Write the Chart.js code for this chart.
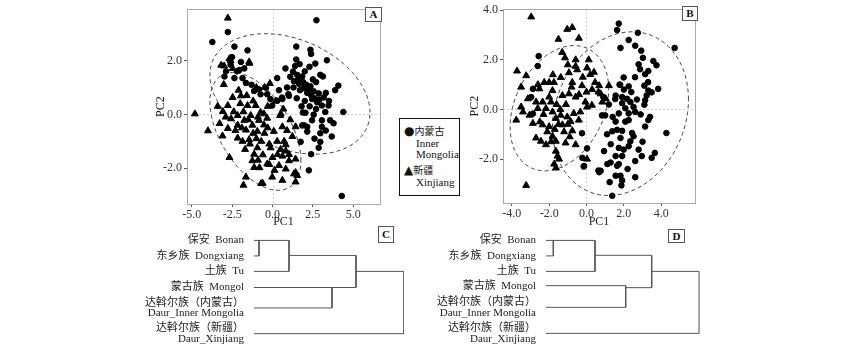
<!DOCTYPE html>
<html lang="zh">
<head>
<meta charset="UTF-8">
<title>PCA and clustering</title>
<script src="https://cdn.jsdelivr.net/npm/chart.js"></script>
<style>
    body { margin: 0; background: #fff; width: 848px; height: 350px; position: relative; overflow: hidden;
           font-family: 'Liberation Serif', 'Noto Sans CJK SC', serif; color: #111; }
    canvas { position: absolute; }
    .tag { position: absolute; box-sizing: border-box; border: 1px solid #555; background: #fff;
           font-weight: bold; font-size: 11px; text-align: center; }
    #legend { position: absolute; left: 399px; top: 118px; width: 61px; height: 78px;
              box-sizing: border-box; border: 1px solid #111; font-size: 11px; }
    #legend span { position: absolute; white-space: nowrap; line-height: 12px; }
    #legend .cjk { position: static; font-size: 10px; }
    #legend .mk { position: static; font-size: 12px; font-family: 'DejaVu Sans', sans-serif; }
</style>
</head>
<body>
<canvas id="chartA" width="235" height="231" style="left:150px;top:0px"></canvas>
<canvas id="chartB" width="236" height="231" style="left:464px;top:0px"></canvas>
<canvas id="chartC" width="270" height="130" style="left:140px;top:220px"></canvas>
<canvas id="chartD" width="275" height="130" style="left:430px;top:220px"></canvas>

<div class="tag" style="left:365px;top:7px;width:17px;height:15px;line-height:13px">A</div>
<div class="tag" style="left:682px;top:6px;width:16px;height:15px;line-height:13px">B</div>
<div class="tag" style="left:378px;top:226px;width:16px;height:17px;line-height:15px">C</div>
<div class="tag" style="left:668px;top:229px;width:17px;height:14px;line-height:12px">D</div>

<div id="legend">
    <span style="left:4px;top:6px"><span class="mk">●</span><span class="cjk">内蒙古</span></span>
    <span style="left:16px;top:18px">Inner</span>
    <span style="left:16px;top:29px">Mongolia</span>
    <span style="left:4px;top:45px"><span class="mk">▲</span><span class="cjk">新疆</span></span>
    <span style="left:16px;top:57px">Xinjiang</span>
</div>

<script>
// ---- panel A: PCA scores (PC1, PC2) ----
const imA = [
    [2.72,3.50],[4.29,-3.03],[-3.73,2.69],[-2.77,3.06],[-2.36,2.52],[-1.55,2.38],[-2.51,2.13],[-1.96,1.95],
    [-1.75,1.71],[-2.05,1.65],[-2.88,1.60],[-2.98,1.41],[-2.36,1.35],[-1.86,1.35],[-1.65,1.17],[0.80,1.71],
    [0.29,1.35],[-0.41,0.99],[-0.84,0.93],[-1.14,0.87],[-0.74,0.75],[-0.33,0.75],[-0.13,0.57],[0.29,0.51],
    [0.59,0.63],[-0.02,0.33],[1.47,2.52],[2.35,2.40],[2.39,2.25],[3.37,2.01],[1.47,2.04],[1.68,1.87],
    [2.29,1.77],[2.65,1.89],[1.27,1.59],[1.53,1.47],[1.84,1.41],[2.96,1.47],[3.12,1.41],[4.08,1.07],
    [3.88,0.90],[1.33,1.23],[1.64,1.14],[1.94,0.98],[2.35,1.04],[2.55,0.86],[2.15,0.80],[2.86,0.78],
    [3.17,0.63],[2.45,0.57],[2.76,0.45],[3.06,0.33],[3.47,0.33],[3.27,0.09],[4.39,0.09],[2.04,0.06],
    [2.55,-0.01],[3.57,-0.22],[3.06,-0.22],[3.78,-0.33],[2.45,-0.22],[1.94,-0.40],[2.15,-0.46],[3.06,-0.46],
    [2.96,-0.70],[3.67,-0.82],[2.15,-0.64],[1.74,-1.02],[2.96,-1.02],[2.86,-1.24],[2.39,-1.48],[2.25,-2.08],
    [1.02,0.69],[0.61,0.57],[0.98,0.75],[1.60,1.30],[1.90,1.20],[2.10,1.10],[2.20,0.90],[2.40,0.70],
    [2.60,0.60],[2.00,0.50],[2.30,0.30],[2.70,0.20],[2.90,0.55],[2.50,1.30],[1.70,0.90],[3.30,0.80],
    [3.50,0.50],[1.40,1.80],[1.10,1.40],[0.90,1.00],[1.50,0.60],[1.84,-0.41],[1.88,0.07],[2.60,-0.90],
    [3.30,-0.60],[1.30,1.00],[2.00,1.60],[2.70,1.20],[1.80,0.30],[0.40,0.90],[-1.30,1.10],[-2.20,1.60],
    [-2.60,1.85]
];
const xjA = [
    [-2.77,3.58],[-3.18,1.83],[-2.67,2.07],[-1.45,1.95],[-2.47,1.71],[-3.02,1.11],[-0.16,1.15],[-1.96,0.69],
    [-2.47,0.63],[-4.81,0.02],[-4.00,-0.61],[-3.08,0.11],[-2.77,0.33],[-3.28,-0.34],[-2.67,-1.60],[-1.65,-2.33],
    [-1.80,-2.63],[-0.71,-2.57],[-1.14,-1.48],[-2.16,-0.88],[-1.86,-1.00],[-1.45,-0.94],[-0.94,-0.63],[-0.53,-0.39],
    [-0.33,-0.14],[0.08,-0.63],[0.29,-1.00],[-0.12,-1.24],[-0.94,-1.24],[-1.25,-1.72],[-0.33,-1.84],[0.12,-2.08],
    [-0.02,-2.33],[-1.14,-1.97],[-2.57,-0.16],[-2.16,-0.04],[-1.75,-0.22],[-1.35,-0.04],[-1.04,0.33],[-0.74,0.08],
    [-1.55,0.33],[-2.16,-0.40],[-2.77,-0.52],[-1.65,-0.58],[-1.25,-0.40],[-0.84,-0.22],[-0.53,0.02],[0.47,-0.04],
    [0.67,0.20],[0.51,0.02],[0.61,-0.46],[1.43,-0.46],[1.23,-0.82],[0.72,-1.00],[0.82,-1.36],[0.61,-1.55],
    [1.02,-1.72],[1.43,-1.66],[0.82,-2.03],[1.33,-2.21],[1.53,-2.27],[1.43,-2.51],[0.61,-2.45],[-0.61,-2.56],
    [1.43,-2.16],[-0.81,-1.98],[-0.20,-1.86],[0.31,-1.49],[0.82,-1.13],[1.02,-1.49],[-3.00,1.80],[-2.60,2.00],
    [-1.43,1.90],[-2.00,0.40],[-1.80,0.10],[-1.50,-0.20],[-1.20,-0.70],[-1.00,-0.90],[-0.70,-1.00],[-0.50,-0.70],
    [-0.30,-0.50],[-1.90,-0.50],[-2.40,0.10],[-1.60,0.70],[-1.20,0.50],[-0.90,-0.10],[-0.60,-1.50],[-0.90,-1.70],
    [0.00,-1.60],[0.40,-1.90],[-2.30,-0.60],[-1.70,-1.30],[-2.90,-0.10],[-3.40,0.30],[-0.50,1.00],[-1.00,1.00],
    [0.20,0.50],[-0.30,0.30],[1.10,-0.20],[0.90,-0.60],[-1.40,-1.10],[-0.20,-1.10],[0.50,-1.30],[-2.10,0.90],
    [-3.10,-0.80]
];
// confidence ellipses: centre, then two conjugate semi-axes (data units)
const ellipsesA = [[1.08, 0.76, 4.96, -0.69, 0, 2.13], [-1.06, -0.63, 2.82, -1.09, 0, 1.90]];
const ticksAx = [-5, -2.5, 0, 2.5, 5];
const ticksAy = [-2, 0, 2];

// ---- panel B ----
const imB = [
    [-2.56,2.15],[-2.61,1.75],[-2.87,0.83],[-2.96,0.50],[-2.87,-0.17],[-0.24,-0.96],[0.03,-1.57],[-0.15,-2.30],
    [0.64,-2.46],[1.73,3.46],[1.64,3.20],[2.75,3.09],[2.26,2.80],[1.82,2.48],[2.61,2.57],[2.93,2.37],
    [4.72,2.48],[3.02,2.08],[2.79,1.82],[2.87,1.62],[3.58,1.95],[3.75,1.78],[3.31,1.55],[3.14,1.42],
    [1.99,1.29],[1.77,1.00],[2.26,0.93],[3.10,0.96],[3.31,0.76],[3.49,0.69],[3.84,0.83],[3.22,0.56],
    [3.14,0.37],[3.10,0.19],[1.56,0.56],[1.91,0.50],[2.17,0.43],[2.35,0.30],[2.52,0.10],[2.61,-0.10],
    [1.91,0.25],[2.08,0.05],[1.73,-0.16],[2.26,-0.16],[1.56,-0.49],[2.08,-0.49],[2.26,-0.43],[3.40,-0.30],
    [3.31,-0.43],[3.14,-0.69],[1.38,-0.88],[1.64,-0.82],[1.91,-0.86],[1.82,-1.15],[2.44,-0.95],[2.52,-1.08],
    [4.28,-0.95],[2.35,-1.28],[2.26,-1.48],[1.73,-1.55],[1.99,-1.62],[1.91,-1.88],[2.79,-1.62],[2.96,-1.88],
    [3.66,-1.75],[3.49,-1.95],[0.94,-1.68],[1.56,-1.88],[2.61,-2.08],[1.29,-2.14],[1.12,-2.20],[1.73,-2.20],
    [1.64,-2.27],[0.76,-2.47],[0.68,-2.53],[1.56,-2.67],[1.82,-2.67],[1.91,-2.86],[1.87,-3.06],[1.24,-2.93],
    [2.61,-2.73],[1.38,-3.48],[0.83,-0.24],[1.00,-0.24],[1.54,0.42],[1.80,1.00],[-0.22,-1.95],[-0.13,-2.28],
    [2.40,0.70],[2.00,0.80],[1.20,0.20],[1.40,-0.30],[2.90,-0.20],[2.70,0.40],[1.10,-1.00],[2.20,-2.40],
    [3.00,-1.30],[2.60,1.30],[3.30,1.10],[0.90,0.50],[1.30,-1.40]
];
const xjB = [
    [-2.96,3.73],[-1.03,3.23],[-0.76,3.30],[-1.50,2.83],[-0.41,2.87],[-3.72,1.55],[-3.23,1.36],[-1.15,2.08],
    [-0.58,2.00],[-0.58,1.74],[0.12,2.00],[0.03,1.67],[0.20,1.41],[-0.94,1.48],[-1.38,1.29],[-2.26,1.09],
    [-2.00,1.09],[-1.74,1.09],[-2.52,0.83],[-1.82,0.76],[-0.76,1.09],[-0.24,0.96],[0.46,1.09],[0.64,0.70],
    [-0.94,0.63],[-1.29,0.56],[-0.58,0.50],[-0.06,0.30],[0.29,0.17],[-3.14,0.43],[-2.70,0.30],[-2.35,0.30],
    [-3.40,-0.10],[-3.76,-0.43],[-3.05,-0.23],[-2.61,0.04],[-2.17,0.04],[-1.82,-0.10],[-1.64,-0.36],[-1.38,-0.23],
    [-1.03,-0.30],[-0.68,-0.16],[-0.33,-0.10],[0.03,0.10],[-2.87,-0.56],[-2.35,-0.62],[-2.00,-0.69],[-1.29,-0.62],
    [-0.85,-0.49],[-0.41,-0.43],[-2.70,-1.15],[-2.44,-1.28],[-2.17,-1.42],[-1.82,-1.08],[-1.64,-1.28],[-1.12,-1.35],
    [-0.76,-0.86],[-0.58,-1.42],[-1.64,-1.68],[-1.55,-1.88],[-1.47,-2.00],[-1.73,-2.20],[-1.64,-2.36],[-3.23,-3.06],
    [0.03,-2.00],[0.76,0.63],[1.03,0.43],[1.20,0.96],[0.68,0.96],[0.85,0.30],[-1.60,0.20],[-1.40,0.00],
    [-1.90,0.30],[-1.50,-0.60],[-1.70,-0.80],[-1.20,-0.90],[-2.30,-0.20],[-2.00,0.50],[-1.10,0.20],[-0.80,0.90],
    [-0.40,0.60],[0.30,0.80],[-0.20,1.30],[-1.00,1.80],[-1.80,1.40],[-2.50,-0.50],[-3.50,0.10],[-1.90,-1.30],
    [-0.90,-1.10],[-2.60,1.00],[0.40,1.50],[-0.50,1.60],[-1.30,2.30],[-3.50,0.90],[-2.10,-0.90],[-1.00,-0.60],
    [0.00,0.70]
];
const ellipsesB = [[1.82, -0.17, 3.64, 0.57, 0, 3.25], [-1.45, 0.05, 2.64, 0.75, 0, 2.41]];
const ticksBx = [-4, -2, 0, 2, 4];
const ticksBy = [-2, 0, 2, 4];

// ---- panels C, D: clustering trees ----
const leafLabels = ['保安  Bonan', '东乡族  Dongxiang', '土族  Tu', '蒙古族  Mongol',
                    ['达斡尔族（内蒙古）', 'Daur_Inner Mongolia'], ['达斡尔族（新疆）', 'Daur_Xinjiang']];
// node ids: 0-5 leaves, 6.. merges in order
const mergePairs = [[0, 1], [6, 2], [3, 4], [7, 8], [9, 5]];
const leafRowsC = [0, 1, 2, 3.04, 4.36, 6.02];
const heightsC = [5, 35, 78, 102, 150];
const nodeRowsC = [0, 0.97, 3.04, 2.0, null];
const leafRowsD = [0, 1, 2, 2.92, 4.32, 6.0];
const heightsD = [7.3, 49, 79.7, 105.7, 153.3];
const nodeRowsD = [0, 0.96, 3.05, 2.0, null];

Chart.defaults.font.family = "'Liberation Serif', 'Noto Sans CJK SC', serif";
Chart.defaults.color = '#222';

const framePlugin = {
    id: 'frame',
    beforeDatasetsDraw(chart, args, opts) {
        if (!opts.ellipses) return;
        const {ctx, chartArea: a} = chart;
        const x = chart.scales.x, y = chart.scales.y;
        ctx.save();
        // dotted zero lines
        ctx.strokeStyle = '#d4d4d4';
        ctx.lineWidth = 1;
        ctx.setLineDash([2, 2]);
        const x0 = Math.round(x.getPixelForValue(0)) + 0.5;
        const y0 = Math.round(y.getPixelForValue(0)) + 0.5;
        ctx.beginPath();
        ctx.moveTo(x0, a.top); ctx.lineTo(x0, a.bottom);
        ctx.moveTo(a.left, y0); ctx.lineTo(a.right, y0);
        ctx.stroke();
        // ellipses
        ctx.strokeStyle = '#444';
        ctx.setLineDash([4, 3]);
        opts.ellipses.forEach(e => {
            ctx.beginPath();
            for (let i = 0; i <= 120; i++) {
                const t = 2 * Math.PI * i / 120;
                const px = x.getPixelForValue(e[0] + e[2] * Math.cos(t) + e[4] * Math.sin(t));
                const py = y.getPixelForValue(e[1] + e[3] * Math.cos(t) + e[5] * Math.sin(t));
                if (i === 0) ctx.moveTo(px, py); else ctx.lineTo(px, py);
            }
            ctx.stroke();
        });
        ctx.restore();
    },
    afterDraw(chart, args, opts) {
        if (!opts.ellipses) return;
        const {ctx, chartArea: a} = chart;
        ctx.save();
        ctx.strokeStyle = '#aaa';
        ctx.lineWidth = 1;
        ctx.strokeRect(Math.round(a.left) + 0.5, Math.round(a.top) + 0.5,
                       Math.round(a.right - a.left), Math.round(a.bottom - a.top));
        ctx.restore();
    }
};

function scatterChart(id, im, xj, ellipses, xr, yr, tx, ty, pad, yWidth, xHeight) {
    const tickFont = {size: 12};
    return new Chart(document.getElementById(id), {
        type: 'scatter',
        data: {
            datasets: [
                {label: '内蒙古 Inner Mongolia', data: im.map(p => ({x: p[0], y: p[1]})),
                 pointStyle: 'circle', pointRadius: 2.8, backgroundColor: '#000', borderColor: '#000', borderWidth: 1},
                {label: '新疆 Xinjiang', data: xj.map(p => ({x: p[0], y: p[1]})),
                 pointStyle: 'triangle', pointRadius: 4, backgroundColor: '#000', borderColor: '#000', borderWidth: 1}
            ]
        },
        options: {
            responsive: false,
            animation: false,
            events: [],
            layout: {padding: pad},
            plugins: {legend: {display: false}, tooltip: {enabled: false}, frame: {ellipses: ellipses}},
            scales: {
                x: {
                    type: 'linear', min: xr[0], max: xr[1],
                    afterBuildTicks: s => { s.ticks = tx.map(v => ({value: v})); },
                    afterFit: s => { s.height = xHeight; },
                    grid: {drawOnChartArea: false, drawTicks: true, tickLength: 3, tickColor: '#555'},
                    border: {display: false},
                    ticks: {font: tickFont, color: '#333', padding: 1, maxRotation: 0, autoSkip: false,
                            callback: v => v.toFixed(1)},
                    title: {display: true, text: 'PC1', font: {size: 12}, color: '#222', padding: {top: 0, bottom: 2}}
                },
                y: {
                    type: 'linear', min: yr[0], max: yr[1],
                    afterBuildTicks: s => { s.ticks = ty.map(v => ({value: v})); },
                    afterFit: s => { s.width = yWidth; },
                    grid: {drawOnChartArea: false, drawTicks: true, tickLength: 3, tickColor: '#555'},
                    border: {display: false},
                    ticks: {font: tickFont, color: '#333', padding: 2, autoSkip: false, callback: v => v.toFixed(1)},
                    title: {display: true, text: 'PC2', font: {size: 12}, color: '#222', padding: {top: 4, bottom: 0}}
                }
            }
        },
        plugins: [framePlugin]
    });
}

scatterChart('chartA', imA, xjA, ellipsesA, [-5.3, 6.66], [-3.33, 3.91], ticksAx, ticksAy,
             {top: 4, right: 3, left: 0, bottom: 0}, 37, 27);
scatterChart('chartB', imB, xjB, ellipsesB, [-4.47, 5.81], [-3.77, 4.04], ticksBx, ticksBy,
             {top: 5, right: 2, left: 0, bottom: 0}, 39, 28);

function treeChart(id, leafRows, heights, nodeRows, pad, yWidth) {
    const nLeaf = leafRows.length;
    const nodeX = i => i < nLeaf ? 0 : heights[i - nLeaf];
    const nodeY = i => i < nLeaf ? leafRows[i] : nodeRows[i - nLeaf];
    const datasets = mergePairs.map((m, k) => ({
        data: [{x: nodeX(m[0]), y: nodeY(m[0])}, {x: heights[k], y: nodeY(m[0])},
               {x: heights[k], y: nodeY(m[1])}, {x: nodeX(m[1]), y: nodeY(m[1])}],
        showLine: true, pointRadius: 0, borderColor: '#555', borderWidth: 1, fill: false
    }));
    return new Chart(document.getElementById(id), {
        type: 'scatter',
        data: {datasets: datasets},
        options: {
            responsive: false,
            animation: false,
            events: [],
            layout: {padding: pad},
            plugins: {legend: {display: false}, tooltip: {enabled: false}},
            scales: {
                x: {type: 'linear', min: 0, max: heights[heights.length - 1], display: false},
                y: {
                    type: 'linear', reverse: true, min: -0.5, max: 6.6,
                    afterBuildTicks: s => { s.ticks = leafRows.map(v => ({value: v})); },
                    afterFit: s => { s.width = yWidth; },
                    grid: {display: false},
                    border: {display: false},
                    ticks: {
                        font: {size: 11, lineHeight: 0.97}, color: '#222', padding: 2, autoSkip: false,
                        callback: (v, i) => leafLabels[i]
                    }
                }
            }
        }
    });
}

treeChart('chartC', leafRowsC, heightsC, nodeRowsC, {top: 5, right: 6, left: 0, bottom: 6}, 114);
treeChart('chartD', leafRowsD, heightsD, nodeRowsD, {top: 5.6, right: 5.7, left: 0, bottom: 6}, 116);
</script>
</body>
</html>
